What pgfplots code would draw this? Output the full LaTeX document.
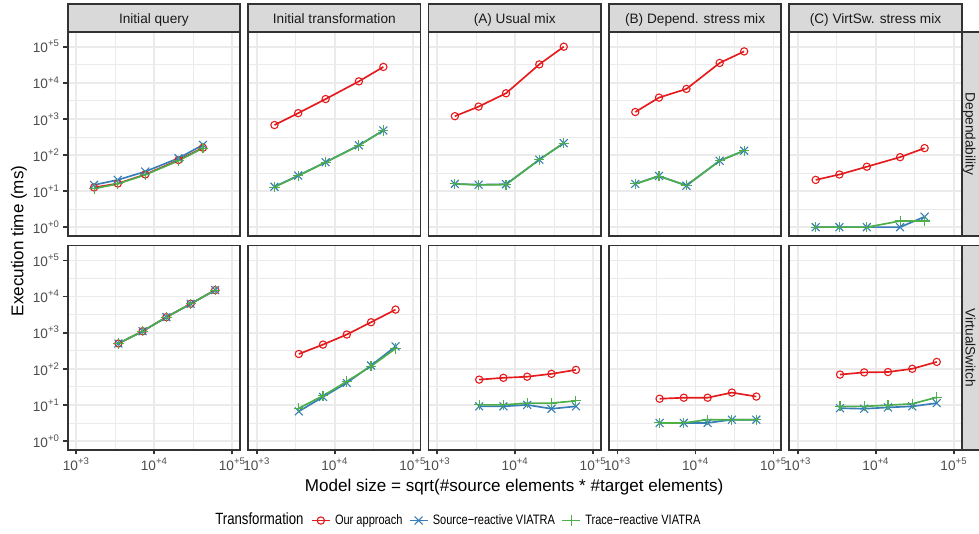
\documentclass[border=0pt]{standalone}
\usepackage{fontspec}
\setmainfont{Liberation Sans}
\newfontfamily\legfont[FakeStretch=0.81]{Liberation Sans}
\usepackage{pgfplots}
\pgfplotsset{compat=1.18}
\usepackage{pgfplotstable}
\usetikzlibrary{calc}
\definecolor{cR}{HTML}{E41A1C}
\definecolor{cB}{HTML}{377EB8}
\definecolor{cG}{HTML}{4DAF4A}
\definecolor{c10}{HTML}{1A1A1A}
\definecolor{c20}{HTML}{333333}
\definecolor{c30}{HTML}{4D4D4D}
\definecolor{c85}{HTML}{D9D9D9}
\definecolor{c92}{HTML}{EBEBEB}

\pgfplotstableread{
x iqR iqB iqG itR itB itG aR aB aG bR bB bG cR cB cG
1690 12.6 14.8 11.7 676 13.2 12.9 1189 15.8 15.8 1549 15.8 15.8 20.4 1 1
3404 16.2 20.4 15.8 1445 26.9 26.3 2188 15.0 14.8 3890 26.3 25.7 28.8 1 1
7656 28.8 34.7 28.2 3548 63.1 63.1 5129 15.5 15.1 6761 14.1 14.5 47.3 1 1
20417 72.4 81.3 69.2 10965 186.2 182 32359 74.1 74.1 35481 69.2 69.2 87.1 1 1.48
42073 158.5 190.5 154.9 27542 478.6 478.6 100000 213.8 213.8 74131 131.8 131.8 154.9 1.95 1.48
}\depdata

\pgfplotstableread{
x iqR iqB iqG itR itB itG aR aB aG bR bB bG cR cB cG
3467 501 501 501 257 6.6 8.1 50.1 9.1 10 14.8 3.16 3.16 69.2 8.1 9.1
7079 1096 1096 1096 468 16.6 17.8 56.2 9.1 10 15.8 3.16 3.16 79.4 7.8 9.1
14289 2692 2692 2692 891 40.7 44.7 60.3 10 11.2 15.8 3.16 3.89 81.3 8.5 9.8
29242 6310 6310 6310 1950 123 117.5 72.4 7.8 11.2 21.9 3.89 3.89 100 9.1 10.7
60256 15136 15136 15136 4365 417 363 93.3 9.1 12.9 17.0 3.89 3.89 154.9 11.2 16.2
}\vsdata

\tikzset{
 ours/.style={color=cR, line width=1.07pt, mark=o, mark size=2.35pt, mark options={solid, line width=0.71pt, fill=none}},
 src/.style={color=cB, line width=1.07pt, mark=x, mark size=3.6pt, mark options={solid, line width=0.71pt}},
 trc/.style={color=cG, line width=1.07pt, mark=+, mark size=3.3pt, mark options={solid, line width=0.71pt}},
}
\pgfplotsset{legend image code/.code={\draw[mark repeat=2,mark phase=2,#1] plot coordinates {(0pt,0pt) (5.8pt,0pt) (11.6pt,0pt)};}}

\newcommand\panel[6]{%
 \begin{loglogaxis}[scale only axis, width=111.2pt, height=131.9pt,
  xmin=776.2, xmax=125893, ymin=0.5623, ymax=260615,
  xtick={1000,10000,100000}, ytick={1,10,100,1000,10000,100000},
  minor xtick={3162.28,31622.8},
  minor ytick={3.1623,31.623,316.23,3162.3,31623},
  grid=both,
  major grid style={draw=c92, line width=1.07pt},
  minor grid style={draw=c92, line width=0.53pt},
  axis line style={draw=c20, line width=1.07pt},
  tick align=outside, xtick pos=bottom, ytick pos=left,
  major tick length=2.75pt, minor tick length=0pt,
  tick style={draw=c20, line width=1.07pt},
  xticklabels={}, yticklabels={},
  xmajorticks=false, ymajorticks=false,
  tick label style={font=\fontsize{8.8}{10}\selectfont, text=c30, inner sep=0pt},
  xticklabel style={anchor=north}, xticklabel shift=2.2pt,
  yticklabel style={anchor=east}, yticklabel shift=2.2pt,
  at={(#1,#2)}, anchor=south west, #5]
 \addplot[ours] table[x=x,y=#4R]{#3};
 \addplot[src] table[x=x,y=#4B]{#3};
 \addplot[trc] table[x=x,y=#4G]{#3};
 #6
 \end{loglogaxis}}

\begin{document}
\begin{tikzpicture}
\useasboundingbox (0,0) rectangle (631.46pt,344.43pt);
% top row: Dependability
\panel{43.67pt}{192.08pt}{\depdata}{iq}{ymajorticks=true, yticklabels={10\textsuperscript{+0},10\textsuperscript{+1},10\textsuperscript{+2},10\textsuperscript{+3},10\textsuperscript{+4},10\textsuperscript{+5}}}{}
\panel{160.02pt}{192.08pt}{\depdata}{it}{}{}
\panel{276.38pt}{192.08pt}{\depdata}{a}{}{}
\panel{392.74pt}{192.08pt}{\depdata}{b}{}{}
\panel{509.10pt}{192.08pt}{\depdata}{c}{}{}
% bottom row: VirtualSwitch
\panel{43.67pt}{54.18pt}{\vsdata}{iq}{ymajorticks=true, yticklabels={10\textsuperscript{+0},10\textsuperscript{+1},10\textsuperscript{+2},10\textsuperscript{+3},10\textsuperscript{+4},10\textsuperscript{+5}},
 xmajorticks=true, xticklabels={10\textsuperscript{+3},10\textsuperscript{+4},10\textsuperscript{+5}},
 legend style={at={(1.41125,-0.3449)}, anchor=west, draw=none, fill=none, inner sep=0pt, outer sep=0pt,
   font=\legfont\fontsize{8.8}{10}\selectfont, text=black, nodes={inner sep=0pt},
   /tikz/every odd column/.append style={column sep=2.8pt},
   /tikz/every even column/.append style={column sep=4pt}},
 legend columns=-1}{\legend{Our approach, Source−reactive VIATRA, Trace−reactive VIATRA}}
\panel{160.02pt}{54.18pt}{\vsdata}{it}{xmajorticks=true, xticklabels={10\textsuperscript{+3},10\textsuperscript{+4},10\textsuperscript{+5}}}{}
\panel{276.38pt}{54.18pt}{\vsdata}{a}{xmajorticks=true, xticklabels={10\textsuperscript{+3},10\textsuperscript{+4},10\textsuperscript{+5}}}{}
\panel{392.74pt}{54.18pt}{\vsdata}{b}{xmajorticks=true, xticklabels={10\textsuperscript{+3},10\textsuperscript{+4},10\textsuperscript{+5}}}{}
\panel{509.10pt}{54.18pt}{\vsdata}{c}{xmajorticks=true, xticklabels={10\textsuperscript{+3},10\textsuperscript{+4},10\textsuperscript{+5}}}{}
% strips
\foreach \xx/\lab in {43.67/Initial query, 160.02/Initial transformation, 276.38/(A) Usual mix, 392.74/(B) Depend. stress mix, 509.10/(C) VirtSw. stress mix}{
  \filldraw[fill=c85, draw=c20, line width=1.07pt] (\xx pt,323.98pt) rectangle ++(111.2pt,17.68pt);
  \node[font=\fontsize{8.8}{10}\selectfont, text=c10, anchor=base] at ($(\xx pt,328.95pt)+(55.6pt,0)$) {\lab};
}
\foreach \yy/\lab in {192.08/Dependability, 54.18/VirtualSwitch}{
  \fill[c85] (620.30pt,\yy pt) rectangle ++(11.16pt,131.9pt);
  \draw[c20, line width=1.07pt] (631.46pt,\yy pt) -- (620.30pt,\yy pt) -- ++(0,131.9pt) -- ++(11.16pt,0);
  \node[rotate=-90, anchor=base, font=\fontsize{8.8}{10}\selectfont, text=c10] at ($(622.75pt,\yy pt)+(0,65.95pt)$) {\lab};
}
\node[rotate=90, anchor=base, font=\fontsize{11}{13}\selectfont] at (15.03pt,189pt) {Execution time (ms)};
\node[anchor=base, font=\fontsize{11}{13}\selectfont] at (331.6pt,27.7pt) {Model size = sqrt(\#source elements * \#target elements)};
\node[anchor=base west, inner sep=0pt, font=\legfont\fontsize{10.5}{12}\selectfont] at (138.7pt,6.2pt) {Transformation};
\end{tikzpicture}
\end{document}
